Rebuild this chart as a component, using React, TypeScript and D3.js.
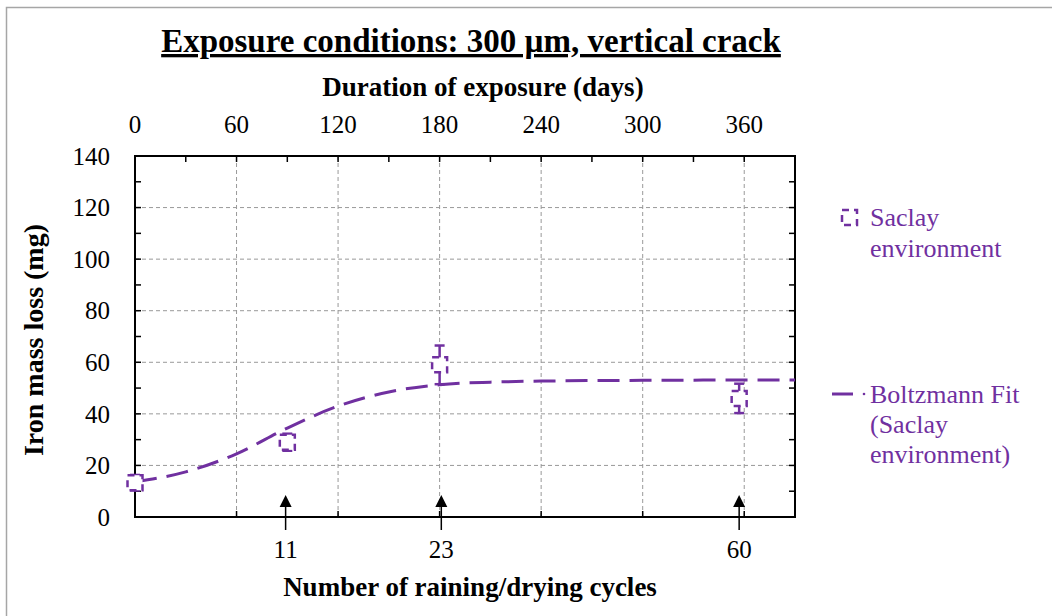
import React from "react";
import * as d3 from "d3";

// measured points (Saclay environment)
const pointDays = [0, 90, 180, 357];
const pointMass = [13.3, 29, 59, 46];
const pointErr = [3, 3.3, 7.5, 5.7];

// Boltzmann fit
const fitDays = [0, 30, 60, 90, 120, 150, 180, 210, 240, 300, 360, 390];
const fitMass = [13.6, 17.5, 24.5, 34.5, 43, 48.5, 51.3, 52.3, 52.7, 53, 53.1, 53.1];

const topTicks = [0, 60, 120, 180, 240, 300, 360];
const yTicks = [0, 20, 40, 60, 80, 100, 120, 140];

// raining/drying cycles marked along the bottom
const cycleLabels = ["11", "23", "60"];
const cycleDays = [89, 181, 357];

const PURPLE = "#7030A0";
const FONT = "'Liberation Serif', serif";

export default function App() {
  const W = 1052;
  const H = 616;
  const left = 135;
  const right = 795;
  const top = 156;
  const bottom = 517;

  const x = d3.scaleLinear().domain([0, 390]).range([left, right]);
  const y = d3.scaleLinear().domain([0, 140]).range([bottom, top]);

  const fitLine = d3
    .line<number>()
    .x((d, i) => x(fitDays[i]))
    .y((d) => y(d))
    .curve(d3.curveMonotoneX);

  const minorY = d3.range(10, 140, 10);
  const minorTop = d3.range(30, 390, 30);

  const sq = 15;

  return (
    <div style={{ position: "absolute", left: 0, top: 0 }}>
      <svg width={W} height={H} style={{ display: "block", background: "#fff" }}>
        {/* outer frame */}
        <rect x={6.5} y={7.5} width={W} height={H} fill="#fff" stroke="#a6a6a6" strokeWidth={1.5} />

        {/* title */}
        <text
          x={471}
          y={52}
          textAnchor="middle"
          fontFamily={FONT}
          fontWeight="bold"
          fontSize={33}
          textDecoration="underline"
        >
          Exposure conditions: 300 µm, vertical crack
        </text>
        <text x={483} y={96} textAnchor="middle" fontFamily={FONT} fontWeight="bold" fontSize={27}>
          Duration of exposure (days)
        </text>

        {/* grid */}
        {topTicks.slice(1).map((t) => (
          <line key={"gx" + t} x1={x(t)} x2={x(t)} y1={top} y2={bottom} stroke="#999" strokeDasharray="4 3" />
        ))}
        {yTicks.slice(1, -1).map((t) => (
          <line key={"gy" + t} x1={left} x2={right} y1={y(t)} y2={y(t)} stroke="#999" strokeDasharray="4 3" />
        ))}

        {/* ticks */}
        {minorY.map((t) => (
          <g key={"my" + t}>
            <line x1={left} x2={left + 6} y1={y(t)} y2={y(t)} stroke="#000" strokeWidth={1.5} />
            <line x1={right} x2={right - 6} y1={y(t)} y2={y(t)} stroke="#000" strokeWidth={1.5} />
          </g>
        ))}
        {minorTop.map((t) => (
          <line key={"mt" + t} x1={x(t)} x2={x(t)} y1={top} y2={top + 6} stroke="#000" strokeWidth={1.5} />
        ))}
        {topTicks.slice(1).map((t) => (
          <line key={"bt" + t} x1={x(t)} x2={x(t)} y1={bottom} y2={bottom - 6} stroke="#000" strokeWidth={1.5} />
        ))}

        {/* plot frame */}
        <rect x={left} y={top} width={right - left} height={bottom - top} fill="none" stroke="#000" strokeWidth={2} />

        {/* top axis labels */}
        {topTicks.map((t) => (
          <text key={"tt" + t} x={x(t)} y={133} textAnchor="middle" fontFamily={FONT} fontSize={25}>
            {t}
          </text>
        ))}

        {/* y axis labels */}
        {yTicks.map((t) => (
          <text key={"yl" + t} x={110} y={y(t)} dy="0.35em" textAnchor="end" fontFamily={FONT} fontSize={25}>
            {t}
          </text>
        ))}
        <text
          transform={`translate(43,340) rotate(-90)`}
          textAnchor="middle"
          fontFamily={FONT}
          fontWeight="bold"
          fontSize={28}
        >
          Iron mass loss (mg)
        </text>

        {/* fit curve */}
        <path d={fitLine(fitMass) || ""} fill="none" stroke={PURPLE} strokeWidth={3} strokeDasharray="22 10" />

        {/* data points with error bars */}
        {pointDays.map((d, i) => {
          const cx = x(d);
          const cy = y(pointMass[i]);
          const y1 = y(pointMass[i] + pointErr[i]);
          const y2 = y(pointMass[i] - pointErr[i]);
          return (
            <g key={"p" + i} stroke={PURPLE} strokeWidth={2.5}>
              <line x1={cx} x2={cx} y1={y1} y2={y2} />
              <line x1={cx - 5} x2={cx + 5} y1={y1} y2={y1} />
              <line x1={cx - 5} x2={cx + 5} y1={y2} y2={y2} />
              <rect
                x={cx - sq / 2}
                y={cy - sq / 2}
                width={sq}
                height={sq}
                fill="#fff"
                strokeDasharray="7 5"
              />
            </g>
          );
        })}

        {/* cycle arrows */}
        {cycleDays.map((d, i) => {
          const ax = x(d);
          return (
            <g key={"c" + i}>
              <line x1={ax} x2={ax} y1={505} y2={530} stroke="#000" strokeWidth={1.5} />
              <path d={`M${ax},${495} L${ax - 6},${507} L${ax + 6},${507} Z`} fill="#000" />
              <text x={ax} y={558} textAnchor="middle" fontFamily={FONT} fontSize={25}>
                {cycleLabels[i]}
              </text>
            </g>
          );
        })}
        <text x={470} y={596} textAnchor="middle" fontFamily={FONT} fontWeight="bold" fontSize={27}>
          Number of raining/drying cycles
        </text>

        {/* legend */}
        <rect
          x={842}
          y={210}
          width={sq}
          height={sq}
          fill="#fff"
          stroke={PURPLE}
          strokeWidth={2.5}
          strokeDasharray="7 5"
        />
        <text fontFamily={FONT} fontSize={26} fill={PURPLE}>
          <tspan x={870} y={226}>Saclay</tspan>
          <tspan x={870} y={257}>environment</tspan>
        </text>
        <line x1={832} x2={853} y1={394} y2={394} stroke={PURPLE} strokeWidth={3} />
        <circle cx={864} cy={394} r={1.3} fill={PURPLE} />
        <text fontFamily={FONT} fontSize={26} fill={PURPLE}>
          <tspan x={870} y={403}>Boltzmann Fit</tspan>
          <tspan x={870} y={433}>(Saclay</tspan>
          <tspan x={870} y={463}>environment)</tspan>
        </text>
      </svg>
    </div>
  );
}
